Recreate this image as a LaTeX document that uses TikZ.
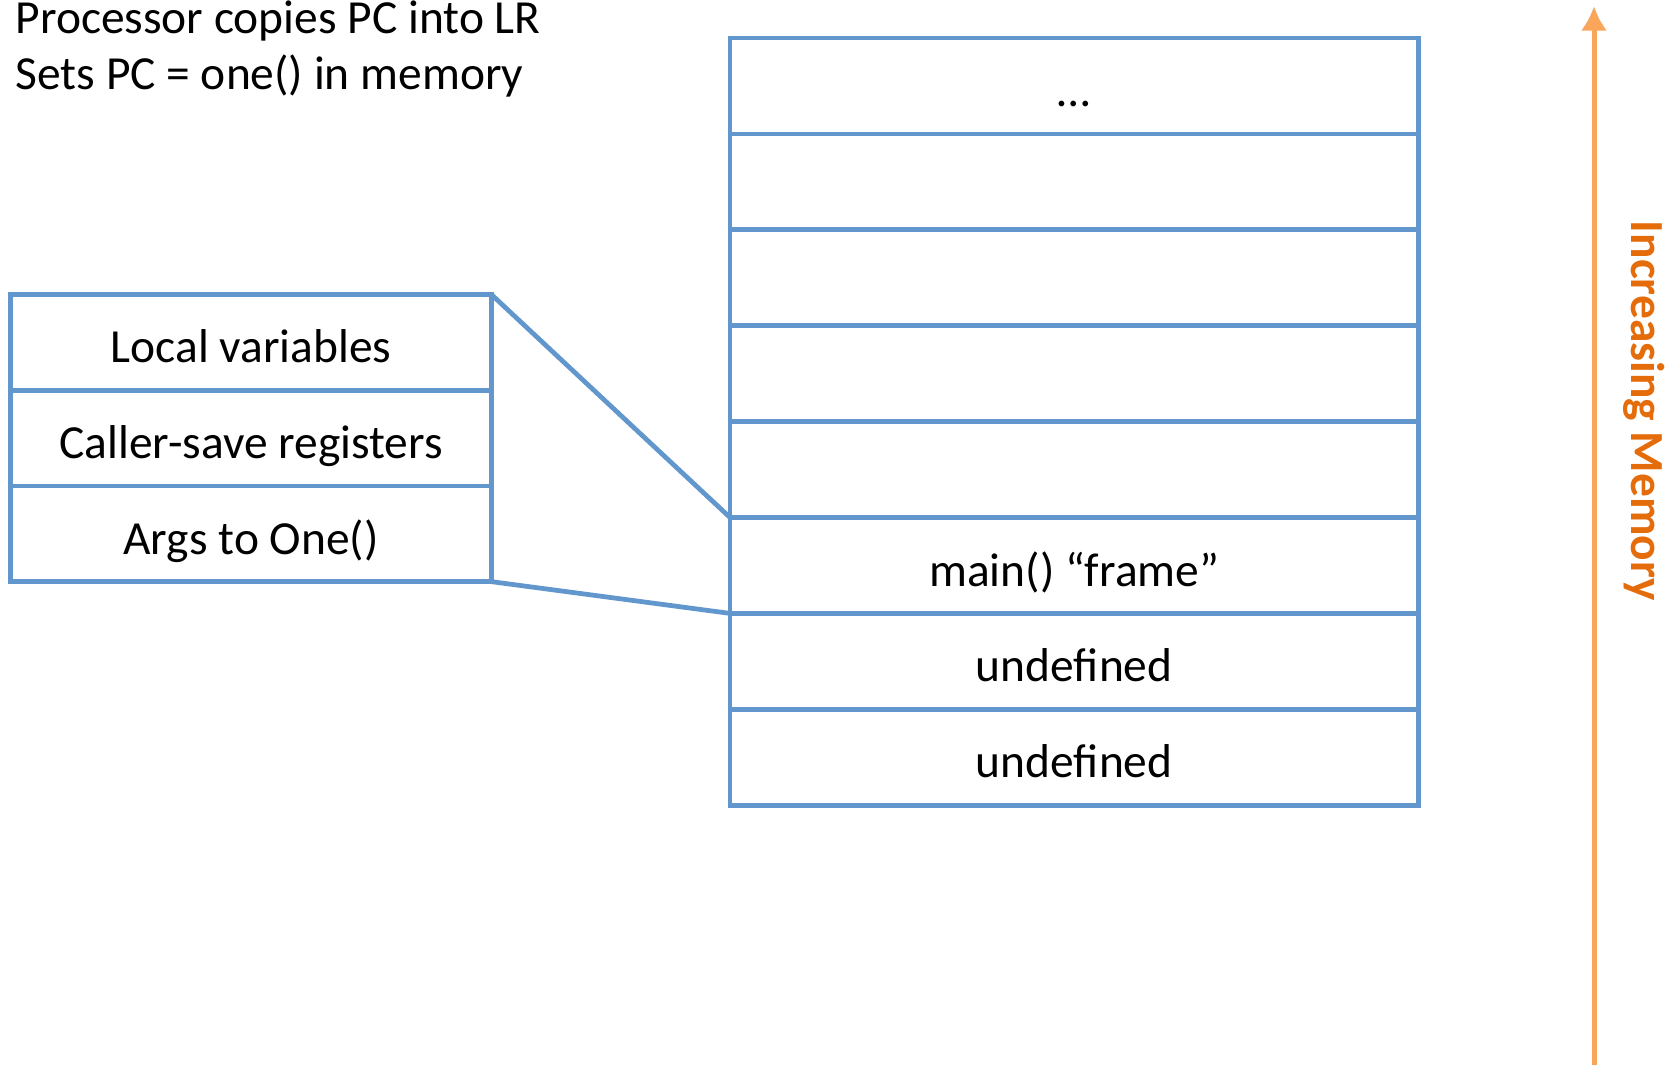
\documentclass[tikz,border=0pt]{standalone}
\usepackage{fontspec}
\setmainfont{Carlito}
\usepackage{xcolor}
\usetikzlibrary{arrows.meta, math}
\definecolor{myblue}{RGB}{97,151,205}
\definecolor{myorange}{RGB}{250,166,90}
\definecolor{mydarkorange}{RGB}{228,108,10}

\begin{document}
\begin{tikzpicture}[x=0.01cm, y=-0.01cm,
  cell/.style={draw=myblue, line width=1.35pt, minimum width=6.88cm, minimum height=0.959cm,
    inner sep=0pt, outer sep=0pt, anchor=north west, text height=1.17em, text depth=0pt,
    font=\fontsize{13.5}{16.2}\selectfont},
  framecell/.style={cell, minimum width=4.805cm, minimum height=0.957cm},
  link/.style={draw=myblue, line width=1.35pt},
  note/.style={inner sep=0pt, anchor=base west, font=\fontsize{13.5}{16.2}\selectfont}]
\tikzmath{
\W=1667; \H=1065;
\Sx=730; \Sy=38; \dy=95.9;
\Fx=10.6; \Fy=294.5; \fy=95.7;
\Ax=1594;
}
\useasboundingbox (0,0) rectangle (\W,\H);

\node[note] (line1) at (15,34) {Processor copies PC into LR};
\node[note] (line2) at (15,90) {Sets PC = one() in memory};

\foreach \i/\txt in {0/…,1/,2/,3/,4/,5/main() “frame”,6/undefined,7/undefined}
  \node[cell] (m\i) at (\Sx,\Sy+\i*\dy) {\txt};

\foreach \i/\txt in {0/Local variables,1/Caller-save registers,2/Args to One()}
  \node[framecell] (f\i) at (\Fx,\Fy+\i*\fy) {\txt};

\draw[link] (f0.north east) -- (m5.north west);
\draw[link] (f2.south east) -- (m6.north west);

\coordinate (abot) at (\Ax,\H);
\coordinate (atop) at (\Ax,6);
\draw[-{Latex[length=7pt,width=7.5pt]}, myorange, line width=1.42pt] (abot) -- (atop);
\node[rotate=-90, anchor=base, inner sep=0pt, text=mydarkorange,
  font=\fontsize{13.5}{16.2}\selectfont\bfseries] (incr) at (1631,411) {Increasing Memory};
\end{tikzpicture}
\end{document}
